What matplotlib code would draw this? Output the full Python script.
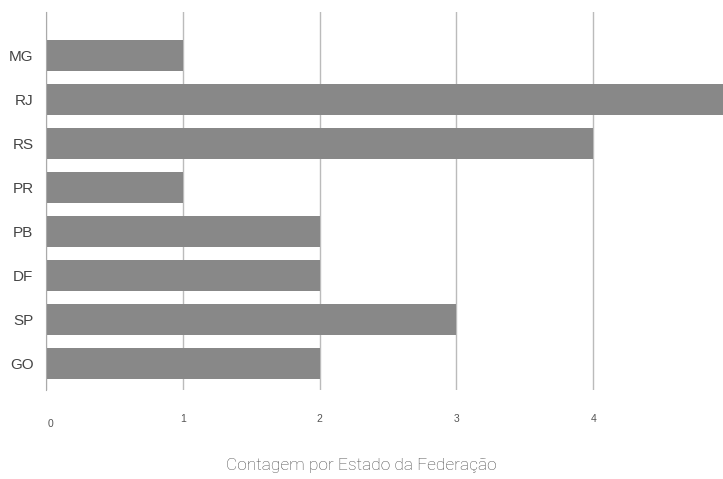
import matplotlib
matplotlib.use("Agg")
from matplotlib import pyplot as plt
import matplotlib.transforms as mtransforms

# dados
estados = ["MG", "RJ", "RS", "PR", "PB", "DF", "SP", "GO"]
contagem = [1, 5, 4, 1, 2, 2, 3, 2]
ticks_x = [0, 1, 2, 3, 4, 5]

plt.rcParams['font.family'] = ['Liberation Sans', 'DejaVu Sans']

fig = plt.figure(figsize=(7.23, 4.79), dpi=100)
ax = fig.add_axes([46 / 723, 89 / 479, 684 / 723, 378 / 479])

pos = list(range(len(estados)))
ax.barh(pos, contagem, height=0.7, color="#888888", zorder=2)

ax.set_yticks(pos)
ax.set_yticklabels(estados, fontsize=11, color="#444444")
ax.set_ylim(7.6, -0.99)
ax.set_xlim(0, 5)
ax.set_xticks(ticks_x)
ax.set_xticklabels([str(t) for t in ticks_x], fontsize=7.5, color="#555555")

ax.grid(True, axis="x", color="#bbbbbb", linewidth=1, zorder=0)
for s in ["top", "right", "bottom"]:
    ax.spines[s].set_visible(False)
ax.spines["left"].set_color("#aaaaaa")
ax.tick_params(axis="both", length=0)
ax.tick_params(axis="x", pad=17)
ax.tick_params(axis="y", pad=9)

# o "0" fica um pouco deslocado no original
lbl0 = ax.get_xticklabels()[0]
lbl0.set_transform(lbl0.get_transform() + mtransforms.ScaledTranslation(5 / 100, -5 / 100, fig.dpi_scale_trans))

# título do eixo centrado na figura, não no eixo
ax.set_xlabel("Contagem por Estado da Federação", fontsize=12.5, color="#4a4a4a",
              family="Roboto", fontweight="light")
ax.xaxis.set_label_coords((361.5 - 46) / 684, -0.2)
ax.xaxis.label.set_verticalalignment("center")

fig.savefig("out.png", dpi=100)
